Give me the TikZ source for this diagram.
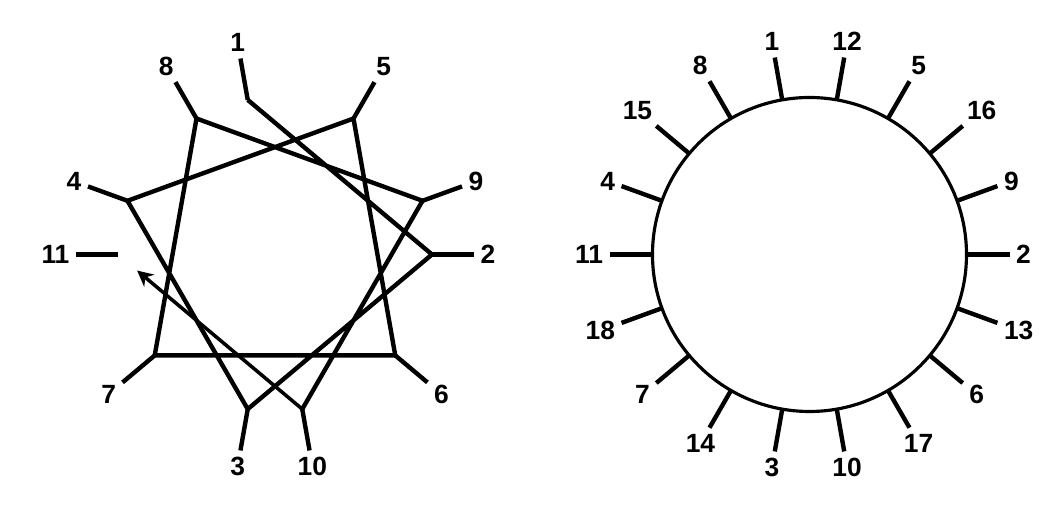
\documentclass[tikz,border=0pt]{standalone}
\usepackage{fontspec}
\setmainfont{Liberation Sans}
\usetikzlibrary{arrows.meta}

\begin{document}
\begin{tikzpicture}[line width=2.5pt, line cap=butt,
    every node/.style={font=\bfseries\fontsize{15}{17}\selectfont, inner sep=2.5pt}]
  \useasboundingbox (-5.5,-5.11) rectangle (15.42,5.09);

  \def\rad{3.14}
  \def\stub{0.84}

  % left wheel: residues 1--11, 100 degrees apart
  \foreach \n in {1,...,11} {
    \pgfmathtruncatemacro\ang{200-100*\n}
    \pgfmathtruncatemacro\opp{mod(380-100*\n+3600,360)}
    \coordinate (v\n) at (\ang:\rad);
    \coordinate (s\n) at (\ang:{\rad+\stub});
    \draw (v\n) -- (s\n);
    \node[anchor=\opp] (l\n) at (s\n) {\n};
  }
  \draw (v1) -- (v2) -- (v3) -- (v4) -- (v5) -- (v6) -- (v7) -- (v8) -- (v9) -- (v10);
  \draw[-{Stealth[length=9pt,width=9pt]}, line width=2pt, shorten >=0.5cm] (v10) -- (v11);

  % right wheel: residues 1--18 round a circle
  \begin{scope}[shift={(10.69,0)}]
    \coordinate (c) at (0,0);
    \draw[line width=1.8pt] (c) circle (\rad);
    \foreach \n in {1,...,18} {
      \pgfmathtruncatemacro\ang{200-100*\n}
      \pgfmathtruncatemacro\opp{mod(380-100*\n+3600,360)}
      \coordinate (w\n) at (\ang:\rad);
      \coordinate (e\n) at (\ang:{\rad+0.86});
      \draw (w\n) -- (e\n);
      \node[anchor=\opp] (m\n) at (e\n) {\n};
    }
  \end{scope}
\end{tikzpicture}
\end{document}
